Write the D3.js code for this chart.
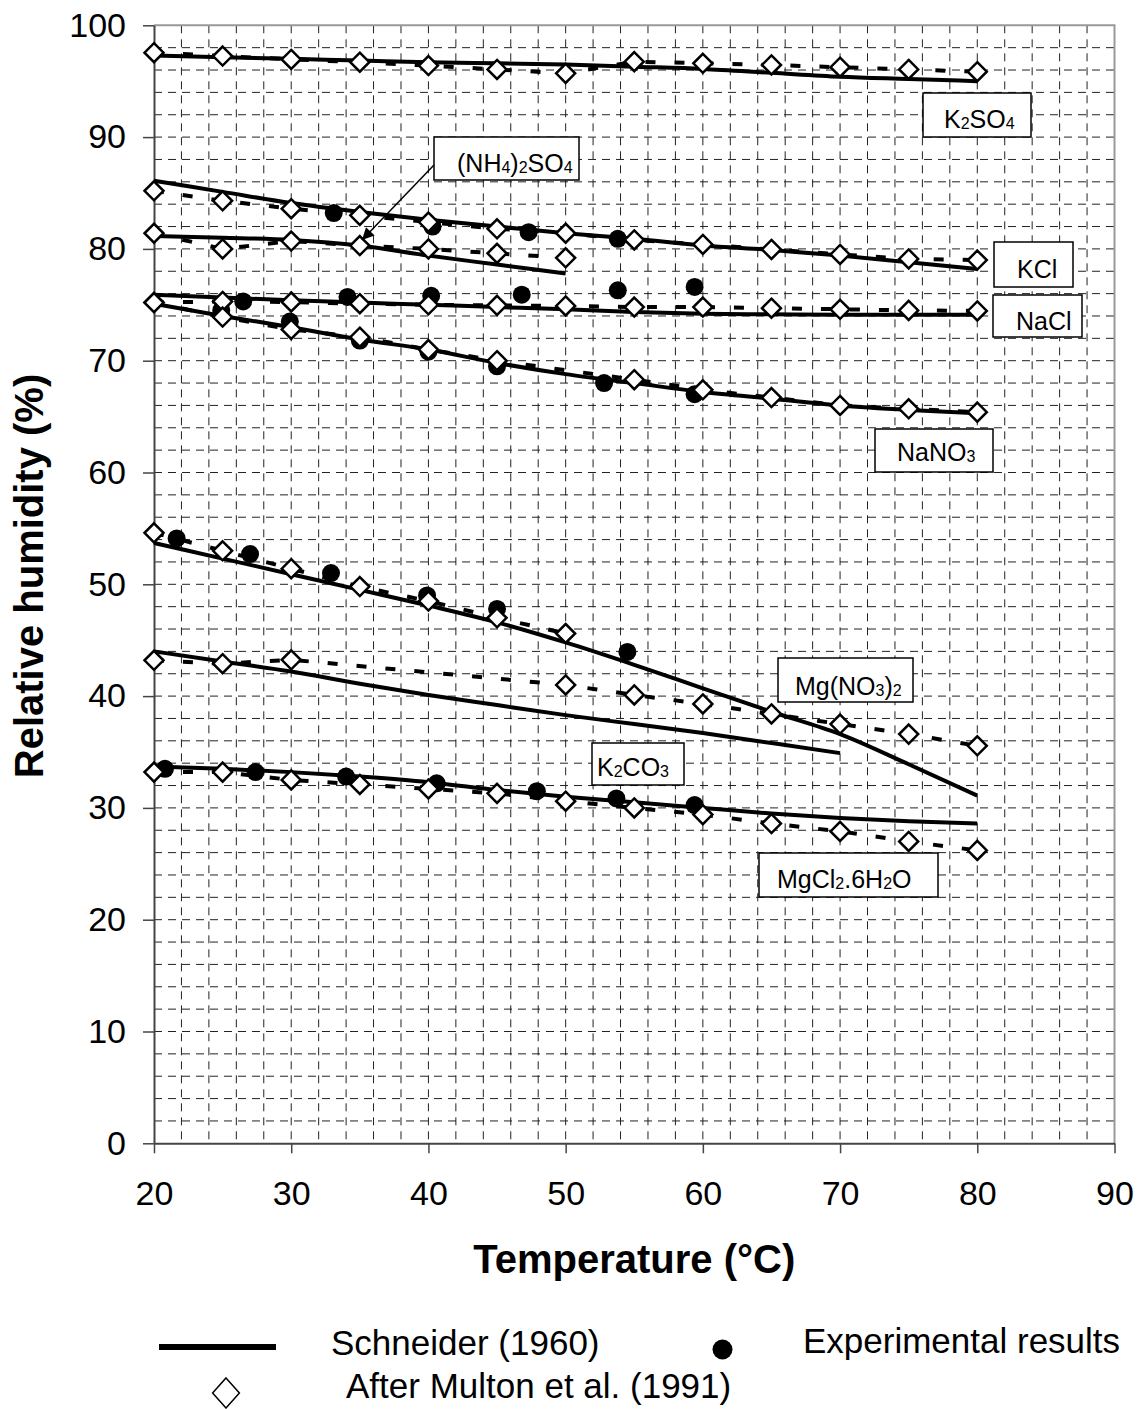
<!DOCTYPE html>
<html>
<head>
<meta charset="utf-8">
<script src="https://cdn.jsdelivr.net/npm/d3@7"></script>
<style>
  body { margin: 0; background: #fff; }
  text { font-family: "Liberation Sans", Arial, sans-serif; }
</style>
</head>
<body>
<script>
// temperatures (°C) at which the curves are given
var temps = [20, 25, 30, 35, 40, 45, 50, 55, 60, 65, 70, 75, 80];

// After Multon et al. (1991) - null = no point
var multonK2SO4  = [97.55, 97.25, 96.95, 96.7, 96.4, 96.05, 95.7, 96.75, 96.6, 96.45, 96.25, 96.05, 95.85];
var multonKCl    = [85.2, 84.3, 83.6, 83.0, 82.4, 81.8, 81.4, 80.8, 80.4, 79.95, 79.5, 79.1, 79.0];
var multonNH4    = [81.4, 80.0, 80.7, 80.3, 80.0, 79.6, 79.2, null, null, null, null, null, null];
var multonNaCl   = [75.2, 75.3, 75.25, 75.1, 75.0, 74.95, 74.9, 74.8, 74.8, 74.7, 74.6, 74.5, 74.45];
var multonNaNO3  = [75.2, 73.9, 72.8, 72.1, 71.0, 70.0, null, 68.3, 67.4, 66.7, 66.0, 65.7, 65.4];
var multonMgNO3  = [54.6, 53.0, 51.4, 49.8, 48.5, 47.0, 45.6, null, null, null, null, null, null];
var multonK2CO3  = [43.2, 42.9, 43.25, null, null, null, 41.0, 40.1, 39.3, 38.4, 37.5, 36.6, 35.55];
var multonMgCl2  = [33.2, 33.2, 32.5, 32.1, 31.7, 31.3, 30.6, 30.0, 29.4, 28.6, 27.9, 27.0, 26.2];

// Schneider (1960)
var schK2SO4 = [97.3, 97.15, 97.0, 96.85, 96.7, 96.6, 96.5, 96.3, 96.1, 95.75, 95.4, 95.2, 95.0];
var schKCl   = [86.1, 85.1, 84.1, 83.3, 82.6, 82.0, 81.4, 80.9, 80.3, 79.9, 79.4, 78.8, 78.2];
var schNH4   = [81.15, 81.0, 80.8, 80.3, 79.4, 78.6, 77.8, null, null, null, null, null, null];
var schNaCl  = [75.9, 75.65, 75.4, 75.2, 75.0, 74.8, 74.6, 74.35, 74.2, 74.15, 74.1, 74.1, 74.1];
var schNaNO3 = [75.1, 74.0, 73.0, 71.9, 71.0, 69.8, 68.8, 68.0, 67.2, 66.6, 66.0, 65.6, 65.3];
var schMgNO3 = [53.7, 52.3, 50.9, 49.5, 48.1, 46.6, 44.8, 42.8, 40.7, 38.6, 36.6, 33.9, 31.1];
var schK2CO3 = [44.0, 43.1, 42.2, 41.1, 40.1, 39.2, 38.3, 37.5, 36.7, 35.8, 34.9, null, null];
var schMgCl2 = [33.7, 33.5, 33.2, 32.8, 32.3, 31.6, 31.0, 30.5, 30.0, 29.5, 29.1, 28.8, 28.6];

// experimental results [T, RH]
var expKCl   = [[33.1, 83.2], [40.3, 82.0], [47.3, 81.5], [53.8, 80.9]];
var expNaCl  = [[26.5, 75.3], [34.1, 75.7], [40.2, 75.8], [46.8, 75.9], [53.8, 76.3], [59.4, 76.6]];
var expNaNO3 = [[24.9, 74.5], [29.9, 73.5], [35.0, 71.8], [40.0, 70.8], [45.0, 69.5], [52.8, 68.0], [59.4, 67.0]];
var expMgNO3 = [[21.65, 54.1], [27.0, 52.7], [32.9, 51.0], [39.9, 49.0], [45.0, 47.8], [54.5, 43.95]];
var expMgCl2 = [[20.8, 33.5], [27.4, 33.2], [34.0, 32.8], [40.6, 32.2], [47.9, 31.5], [53.7, 30.85], [59.4, 30.25]];

var xTicks = [20, 30, 40, 50, 60, 70, 80, 90];
var yTicks = [0, 10, 20, 30, 40, 50, 60, 70, 80, 90, 100];

var multonAll = [multonK2SO4, multonKCl, multonNH4, multonNaCl, multonNaNO3, multonMgNO3, multonK2CO3, multonMgCl2];
var schAll = [schK2SO4, schKCl, schNH4, schNaCl, schNaNO3, schMgNO3, schK2CO3, schMgCl2];
var expAll = [expKCl, expNaCl, expNaNO3, expMgNO3, expMgCl2];

// salt labels: parts [text, isSubscript]; box in px
var notes = [
  { parts: [["K",0],["2",1],["SO",0],["4",1]], box: [923, 93, 108, 44], tx: 944, ty: 128 },
  { parts: [["(NH",0],["4",1],[")",0],["2",1],["SO",0],["4",1]], box: [434, 137, 145, 43], tx: 457, ty: 172 },
  { parts: [["KCl",0]], box: [994, 242, 79, 45], tx: 1017, ty: 278 },
  { parts: [["NaCl",0]], box: [993, 295, 89, 42], tx: 1016, ty: 330 },
  { parts: [["NaNO",0],["3",1]], box: [875, 429, 118, 43], tx: 897, ty: 461 },
  { parts: [["Mg(NO",0],["3",1],[")",0],["2",1]], box: [778, 658, 135, 44], tx: 795, ty: 695 },
  { parts: [["K",0],["2",1],["CO",0],["3",1]], box: [592, 743, 92, 42], tx: 597, ty: 776 },
  { parts: [["MgCl",0],["2",1],[".6H",0],["2",1],["O",0]], box: [759, 853, 179, 44], tx: 777, ty: 888 }
];

var W = 1142, H = 1409;
var x = d3.scaleLinear().domain([20, 90]).range([154, 1114.5]);
var y = d3.scaleLinear().domain([0, 100]).range([1143.3, 25.3]);

var svg = d3.select("body").append("svg").attr("width", W).attr("height", H);

// grid
var grid = svg.append("g").attr("stroke", "#222").attr("stroke-width", 1).attr("stroke-dasharray", "8,6");
grid.selectAll(".gv").data(d3.range(22, 90, 2)).enter().append("line")
  .attr("x1", d => x(d)).attr("x2", d => x(d)).attr("y1", y(100)).attr("y2", y(0));
grid.selectAll(".gh").data(d3.range(2, 100, 2)).enter().append("line")
  .attr("x1", x(20)).attr("x2", x(90)).attr("y1", d => y(d)).attr("y2", d => y(d));

// top and right border
svg.append("path")
  .attr("d", "M" + x(20) + "," + y(100) + "H" + x(90) + "V" + y(0))
  .attr("fill", "none").attr("stroke", "#999").attr("stroke-width", 2);

// axes
var gx = svg.append("g").attr("transform", "translate(0," + y(0) + ")")
  .call(d3.axisBottom(x).tickValues(xTicks).tickSize(10).tickSizeOuter(0).tickPadding(28));
var gy = svg.append("g").attr("transform", "translate(" + x(20) + ",0)")
  .call(d3.axisLeft(y).tickValues(yTicks).tickSize(11).tickSizeOuter(0).tickPadding(17));
[gx, gy].forEach(function(g) {
  g.select(".domain").attr("stroke", "#444").attr("stroke-width", 2);
  g.selectAll(".tick line").attr("stroke", "#444").attr("stroke-width", 1.5);
  g.selectAll(".tick text").attr("font-size", 34).attr("fill", "#000")
    .attr("font-family", "'Liberation Sans', Arial, sans-serif");
});

function pts(vals) {
  return temps.map((t, i) => [t, vals[i]]).filter(p => p[1] != null);
}

var line = d3.line().x(d => x(d[0])).y(d => y(d[1]));
var smooth = d3.line().x(d => x(d[0])).y(d => y(d[1])).curve(d3.curveMonotoneX);

// Multon dashed lines
svg.append("g").selectAll("path").data(multonAll).enter().append("path")
  .attr("d", d => line(pts(d)))
  .attr("fill", "none").attr("stroke", "#000").attr("stroke-width", 4)
  .attr("stroke-dasharray", "10,19");

// Schneider solid lines
svg.append("g").selectAll("path").data(schAll).enter().append("path")
  .attr("d", d => smooth(pts(d)))
  .attr("fill", "none").attr("stroke", "#000").attr("stroke-width", 4)
  .attr("stroke-linejoin", "round");

// experimental dots
svg.append("g").selectAll("circle").data(d3.merge(expAll)).enter().append("circle")
  .attr("cx", d => x(d[0])).attr("cy", d => y(d[1])).attr("r", 9).attr("fill", "#000");

// Multon diamonds
var diamond = "M0,-9.5L9.5,0L0,9.5L-9.5,0Z";
svg.append("g").selectAll("path").data(d3.merge(multonAll.map(pts))).enter().append("path")
  .attr("d", diamond)
  .attr("transform", d => "translate(" + x(d[0]) + "," + y(d[1]) + ")")
  .attr("fill", "#fff").attr("stroke", "#000").attr("stroke-width", 2.5);

// salt labels
var ng = svg.append("g");
notes.forEach(function(n) {
  ng.append("rect").attr("x", n.box[0]).attr("y", n.box[1])
    .attr("width", n.box[2]).attr("height", n.box[3])
    .attr("fill", "#fff").attr("stroke", "#000").attr("stroke-width", 1.5);
  var t = ng.append("text").attr("x", n.tx).attr("y", n.ty).attr("font-size", 25);
  var prev = 0;
  n.parts.forEach(function(p) {
    t.append("tspan").text(p[0]).attr("font-size", p[1] ? 16 : 25)
      .attr("dy", (p[1] ? 1 : 0) - (prev ? 1 : 0));
    prev = p[1];
  });
});

// arrow to (NH4)2SO4 curve
svg.append("defs").append("marker").attr("id", "ah")
  .attr("viewBox", "0 0 10 10").attr("refX", 10).attr("refY", 5)
  .attr("markerWidth", 16).attr("markerHeight", 12).attr("markerUnits", "userSpaceOnUse")
  .attr("orient", "auto")
  .append("path").attr("d", "M0,0L10,5L0,10Z").attr("fill", "#000");
svg.append("line").attr("x1", 434).attr("y1", 165).attr("x2", 362).attr("y2", 240)
  .attr("stroke", "#000").attr("stroke-width", 1.5).attr("marker-end", "url(#ah)");

// axis titles
svg.append("text").attr("x", x(55)).attr("y", 1273).attr("text-anchor", "middle")
  .attr("font-size", 40).attr("font-weight", "bold").text("Temperature (°C)");
svg.append("text").attr("transform", "translate(43,576) rotate(-90)").attr("text-anchor", "middle")
  .attr("font-size", 40).attr("font-weight", "bold").text("Relative humidity (%)");

// legend
var lg = svg.append("g");
lg.append("line").attr("x1", 159).attr("x2", 276).attr("y1", 1347).attr("y2", 1347)
  .attr("stroke", "#000").attr("stroke-width", 6);
lg.append("text").attr("x", 331).attr("y", 1355).attr("font-size", 35).text("Schneider (1960)");
lg.append("path").attr("d", "M0,-15L13.4,0L0,15L-13.4,0Z").attr("transform", "translate(226,1393)")
  .attr("fill", "#fff").attr("stroke", "#000").attr("stroke-width", 1.5);
lg.append("text").attr("x", 346).attr("y", 1398).attr("font-size", 35).text("After Multon et al. (1991)");
lg.append("circle").attr("cx", 722.5).attr("cy", 1349.5).attr("r", 10).attr("fill", "#000");
lg.append("text").attr("x", 803).attr("y", 1353).attr("font-size", 35).text("Experimental results");
</script>
</body>
</html>
